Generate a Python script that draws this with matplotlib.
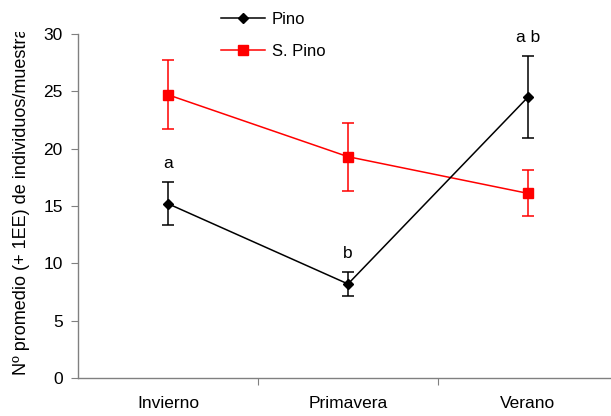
import matplotlib
matplotlib.use("Agg")
import matplotlib.pyplot as plt
from matplotlib.lines import Line2D
from matplotlib.transforms import Bbox, TransformedBbox

plt.rcParams['font.family'] = ['Liberation Sans', 'DejaVu Sans']
plt.rcParams['font.size'] = 12.5

# Datos
estaciones = ["Invierno", "Primavera", "Verano"]
pino = [15.2, 8.2, 24.5]
pino_ee = [1.9, 1.05, 3.6]
s_pino = [24.7, 19.3, 16.1]
s_pino_ee = [3.0, 2.95, 2.0]
letras = ["a", "b", "a b"]

fig = plt.figure(figsize=(6.11, 4.16), dpi=100)
# area de trazado en pixeles: x 78..618, y 34..378
ax = fig.add_axes([78 / 611, 1 - 378 / 416, 540 / 611, 344 / 416])

x = list(range(len(estaciones)))
ax.errorbar(x, pino, yerr=pino_ee, color='black', marker='D', markersize=5.5,
            linewidth=1.1, elinewidth=1.1, capsize=4.5, capthick=1.1, zorder=3)
ax.errorbar(x, s_pino, yerr=s_pino_ee, color='#FF0000', marker='s', markersize=7,
            linewidth=1.1, elinewidth=1.1, capsize=4.5, capthick=1.1, zorder=2)

# letras de significancia sobre la barra de error de Pino
for xi, v, e, t in zip(x, pino, pino_ee, letras):
    ax.annotate(t, (xi, v + e), xytext=(0, 8), textcoords='offset points',
                ha='center', va='bottom', fontsize=12.5)

ax.set_xlim(-0.5, 2.5)
ax.set_ylim(0, 30)
ax.set_yticks(range(0, 31, 5))
ax.set_xticks([0.5, 1.5])
ax.set_xticklabels([])
ax.set_xticks(x, minor=True)
ax.set_xticklabels(estaciones, minor=True)
ax.tick_params(axis='x', which='major', length=5, direction='out', color='#808080')
ax.tick_params(axis='x', which='minor', length=0, pad=13)
ax.tick_params(axis='y', length=5, color='#808080', pad=6)

for s in ['top', 'right']:
    ax.spines[s].set_visible(False)
for s in ['left', 'bottom']:
    ax.spines[s].set_color('#808080')
    ax.spines[s].set_linewidth(1.0)

# etiqueta del eje y, recortada arriba como en el original
ylab = fig.text(22 / 611, 1 - 375 / 416, "Nº promedio (+ 1EE) de individuos/muestra",
                rotation=90, ha='center', va='bottom', fontsize=13)
ylab.set_clip_box(TransformedBbox(Bbox([[0, 0], [1, 1 - 32 / 416]]), fig.transFigure))
ylab.set_clip_on(True)

handles = [
    Line2D([], [], color='black', marker='D', markersize=5.5, linewidth=1.1),
    Line2D([], [], color='#FF0000', marker='s', markersize=7, linewidth=1.1),
]
fig.legend(handles, ['Pino', 'S. Pino'], loc='upper left',
           bbox_to_anchor=(214 / 611, 1 - 5 / 416), frameon=False,
           handlelength=2.65, handletextpad=0.4, labelspacing=1.05, fontsize=12,
           borderaxespad=0)

fig.savefig("out.png", dpi=100)
